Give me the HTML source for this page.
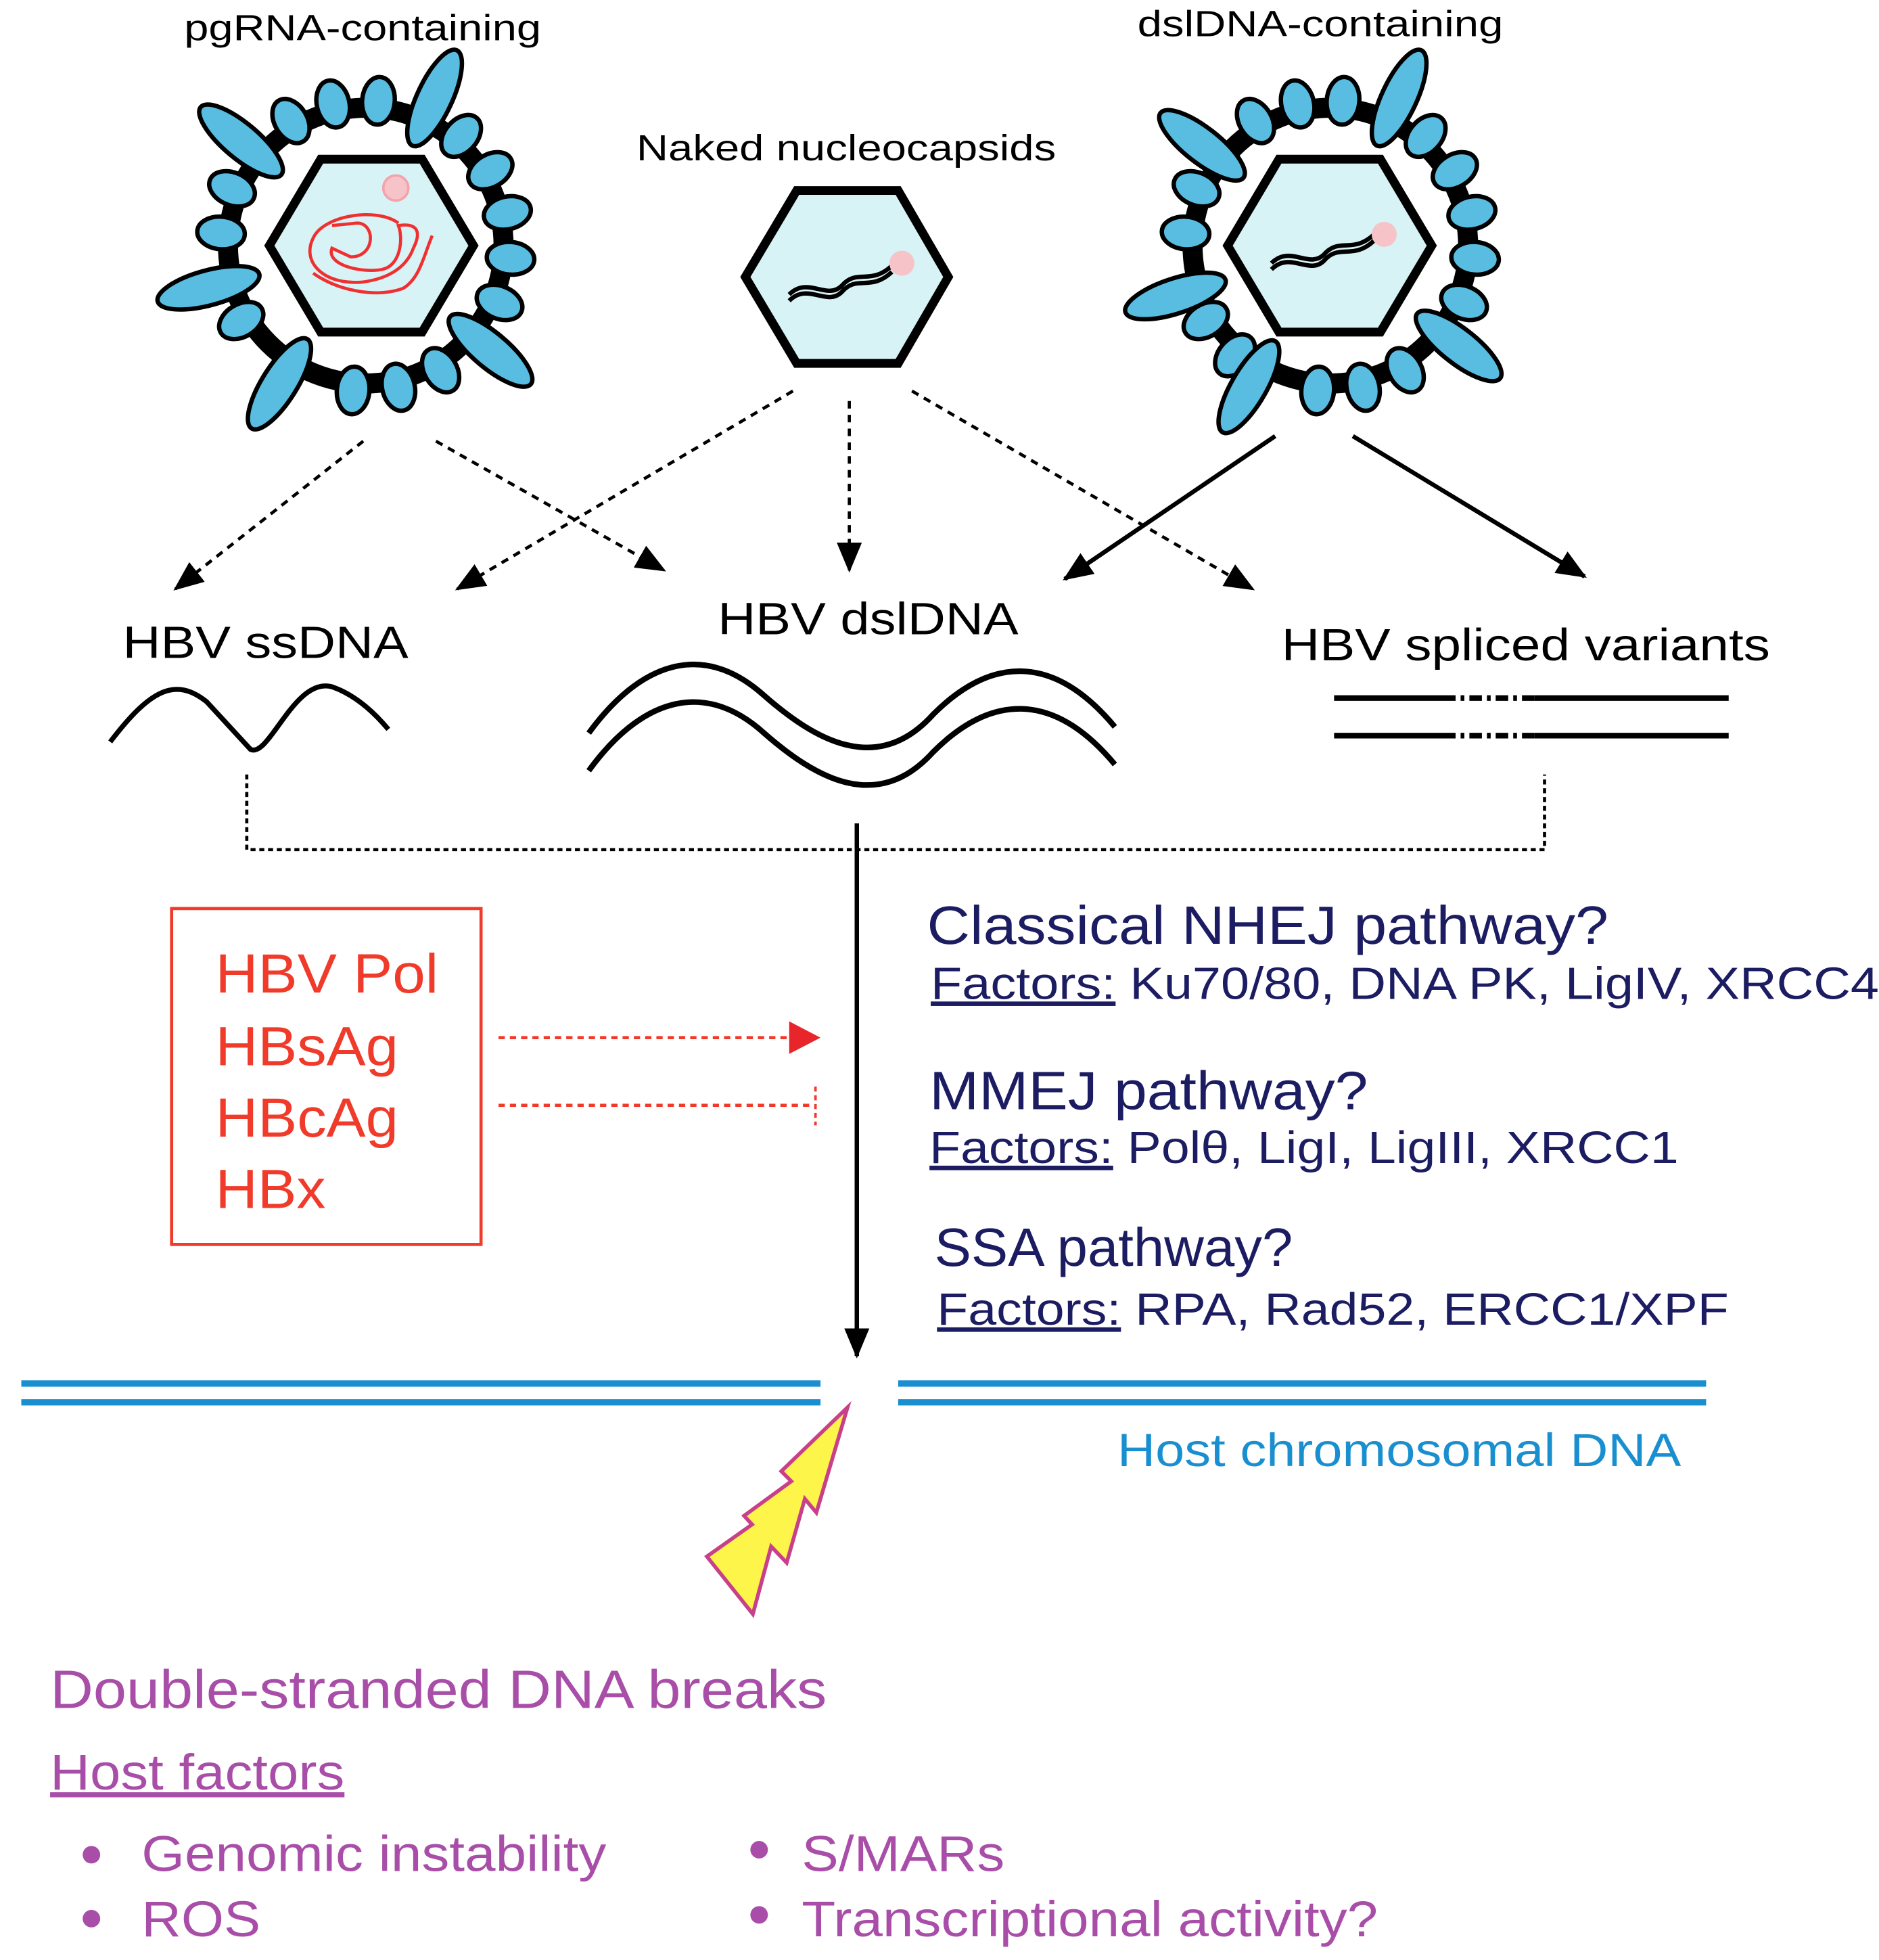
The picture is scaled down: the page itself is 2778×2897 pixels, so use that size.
<!DOCTYPE html>
<html><head><meta charset="utf-8"><style>
html,body{margin:0;padding:0;background:#fff;}
svg{display:block;}
text{font-family:"Liberation Sans",sans-serif;}
</style></head><body>
<svg id="s" width="2778" height="2897" viewBox="0 0 1500 1564" preserveAspectRatio="none" xmlns="http://www.w3.org/2000/svg">
<defs>
<marker id="ahb" markerWidth="24" markerHeight="20" refX="22" refY="10" orient="auto" markerUnits="userSpaceOnUse"><path d="M0,0 L24,10 L0,20 z" fill="#000"/></marker>
</defs>
<g id="v1"></g><g id="v3"></g>
<polygon points="215,196 256,127 337,127 378,196 337,265 256,265" fill="#d8f3f6" stroke="#000" stroke-width="7"/>
<polygon points="595,221 636,152 717,152 757,221 717,290 636,290" fill="#d8f3f6" stroke="#000" stroke-width="7"/>
<polygon points="980,196 1021,127 1102,127 1143,196 1102,265 1021,265" fill="#d8f3f6" stroke="#000" stroke-width="7"/>
<circle cx="316" cy="150" r="10" fill="#f6c4c8" stroke="#f3a3aa" stroke-width="2"/>
<path d="M265,180 L285,178 C300,178 300,205 280,205 L265,198 C260,212 290,218 305,215 C320,212 322,190 318,180 C330,178 338,182 330,198 C325,212 312,222 290,225 C260,228 240,210 250,190 C258,172 300,165 318,178 M345,188 C338,205 335,222 322,230 C300,238 270,232 250,218" fill="none" stroke="#f03030" stroke-width="2.5"/>
<path d="M630,235 C645,220 660,240 672,228 C684,214 695,228 712,212 M630,240 C645,225 660,245 672,233 C684,219 695,233 712,217" fill="none" stroke="#000" stroke-width="3.5"/>
<circle cx="720" cy="210" r="10" fill="#f6c4c8"/>
<path d="M1015,210 C1030,195 1045,215 1057,203 C1069,189 1080,203 1097,187 M1015,215 C1030,200 1045,220 1057,208 C1069,194 1080,208 1097,192" fill="none" stroke="#000" stroke-width="3.5"/>
<circle cx="1105" cy="187" r="10" fill="#f6c4c8"/>
<text x="147" y="32" font-size="29" textLength="285" lengthAdjust="spacingAndGlyphs">pgRNA-containing</text>
<text x="908" y="29" font-size="29" textLength="292" lengthAdjust="spacingAndGlyphs">dslDNA-containing</text>
<text x="508" y="128" font-size="29" textLength="335" lengthAdjust="spacingAndGlyphs">Naked nucleocapsids</text>
<g stroke="#000" stroke-width="2.5" stroke-dasharray="6,5" fill="none">
<line x1="290" y1="352" x2="140" y2="470" marker-end="url(#ahb)"/>
<line x1="348" y1="352" x2="530" y2="455" marker-end="url(#ahb)"/>
<line x1="633" y1="312" x2="365" y2="470" marker-end="url(#ahb)"/>
<line x1="678" y1="320" x2="678" y2="455" marker-end="url(#ahb)"/>
<line x1="728" y1="312" x2="1000" y2="470" marker-end="url(#ahb)"/>
</g>
<g stroke="#000" stroke-width="3.5" fill="none">
<line x1="1018" y1="348" x2="850" y2="462" marker-end="url(#ahb)"/>
<line x1="1080" y1="348" x2="1265" y2="460" marker-end="url(#ahb)"/>
</g>
<text x="98" y="525" font-size="36" textLength="228" lengthAdjust="spacingAndGlyphs">HBV ssDNA</text>
<text x="573" y="506" font-size="36" textLength="240" lengthAdjust="spacingAndGlyphs">HBV dslDNA</text>
<text x="1023" y="527" font-size="36" textLength="390" lengthAdjust="spacingAndGlyphs">HBV spliced variants</text>
<path d="M88,592 C120,550 140,540 165,560 L200,598 C215,605 235,540 265,548 C285,555 300,570 310,582" fill="none" stroke="#000" stroke-width="4"/>
<path d="M470,585 C510,530 560,510 610,555 C650,590 700,620 745,570 C790,525 840,520 890,580" fill="none" stroke="#000" stroke-width="4.5"/>
<path d="M470,615 C510,560 560,540 610,585 C650,620 700,650 745,600 C790,555 840,550 890,610" fill="none" stroke="#000" stroke-width="4.5"/>
<g stroke="#000" stroke-width="4.5"><line x1="1065" y1="557" x2="1152" y2="557"/><line x1="1225" y1="557" x2="1380" y2="557"/><line x1="1065" y1="587" x2="1152" y2="587"/><line x1="1225" y1="587" x2="1380" y2="587"/></g>
<g stroke="#000" stroke-width="4.5" stroke-dasharray="10,4,3,4"><line x1="1152" y1="557" x2="1225" y2="557"/><line x1="1152" y1="587" x2="1225" y2="587"/></g>
<path d="M197,618 L197,678 L1233,678 L1233,618" fill="none" stroke="#000" stroke-width="2.5" stroke-dasharray="4,3"/>
<line x1="684" y1="657" x2="684" y2="1082" stroke="#000" stroke-width="3.5" marker-end="url(#ahb)"/>
<rect x="137" y="725" width="247" height="268" fill="none" stroke="#f03a2a" stroke-width="2.5"/>
<g fill="#f03a2a" font-size="44">
<text x="172" y="792" textLength="178" lengthAdjust="spacingAndGlyphs">HBV Pol</text>
<text x="172" y="850" textLength="146" lengthAdjust="spacingAndGlyphs">HBsAg</text>
<text x="172" y="907" textLength="146" lengthAdjust="spacingAndGlyphs">HBcAg</text>
<text x="172" y="964" textLength="88" lengthAdjust="spacingAndGlyphs">HBx</text></g>
<line x1="398" y1="828" x2="630" y2="828" stroke="#f03a2a" stroke-width="2.5" stroke-dasharray="5,4"/>
<path d="M630,815 L655,828 L630,841 z" fill="#e8252a"/>
<line x1="398" y1="882" x2="648" y2="882" stroke="#f03a2a" stroke-width="2.5" stroke-dasharray="5,4"/>
<line x1="651" y1="867" x2="651" y2="898" stroke="#f03a2a" stroke-width="2" stroke-dasharray="4,3"/>
<g fill="#1c1c62">
<text x="740" y="753" font-size="43" textLength="544" lengthAdjust="spacingAndGlyphs">Classical NHEJ pathway?</text>
<text x="743" y="797" font-size="36" textLength="757" lengthAdjust="spacingAndGlyphs"><tspan text-decoration="underline">Factors:</tspan> Ku70/80, DNA PK, LigIV, XRCC4</text>
<text x="742" y="885" font-size="43" textLength="350" lengthAdjust="spacingAndGlyphs">MMEJ pathway?</text>
<text x="742" y="928" font-size="36" textLength="598" lengthAdjust="spacingAndGlyphs"><tspan text-decoration="underline">Factors:</tspan> Polθ, LigI, LigIII, XRCC1</text>
<text x="746" y="1010" font-size="43" textLength="286" lengthAdjust="spacingAndGlyphs">SSA pathway?</text>
<text x="748" y="1057" font-size="36" textLength="632" lengthAdjust="spacingAndGlyphs"><tspan text-decoration="underline">Factors:</tspan> RPA, Rad52, ERCC1/XPF</text>
</g>
<g stroke="#1a8fd0" stroke-width="5"><line x1="17" y1="1104" x2="655" y2="1104"/><line x1="17" y1="1119" x2="655" y2="1119"/><line x1="717" y1="1104" x2="1362" y2="1104"/><line x1="717" y1="1119" x2="1362" y2="1119"/></g>
<text x="892" y="1170" font-size="37" fill="#1a8fd0" textLength="450" lengthAdjust="spacingAndGlyphs">Host chromosomal DNA</text>
<polygon points="676.6,1123 623.7,1174 631.7,1182 594,1209.5 600.4,1216.5 564.3,1242 601,1288 615.6,1234 628,1247 642.5,1196 651.7,1207" fill="#fdf54a" stroke="#c8408a" stroke-width="3"/>
<g fill="#a94ea8">
<text x="40" y="1363" font-size="43" textLength="620" lengthAdjust="spacingAndGlyphs">Double-stranded DNA breaks</text>
<text x="40" y="1428" font-size="40" text-decoration="underline" textLength="235" lengthAdjust="spacingAndGlyphs">Host factors</text>
<circle cx="73" cy="1480" r="7"/><circle cx="73" cy="1531" r="7"/><circle cx="606" cy="1476" r="7"/><circle cx="606" cy="1528" r="7"/>
<text x="113" y="1493" font-size="40" textLength="371" lengthAdjust="spacingAndGlyphs">Genomic instability</text>
<text x="113" y="1545" font-size="40" textLength="95" lengthAdjust="spacingAndGlyphs">ROS</text>
<text x="640" y="1493" font-size="40" textLength="162" lengthAdjust="spacingAndGlyphs">S/MARs</text>
<text x="640" y="1545" font-size="40" textLength="460" lengthAdjust="spacingAndGlyphs">Transcriptional activity?</text>
</g>
</svg>
<script>
(function(){
var NS="http://www.w3.org/2000/svg";
function virus(g,cx,cy,spikes){
  g=document.getElementById(g);
  function el(tag,a){var e=document.createElementNS(NS,tag);for(var k in a)e.setAttribute(k,a[k]);g.appendChild(e);return e;}
  el("circle",{cx:cx,cy:cy,r:110,fill:"#fff",stroke:"#000","stroke-width":16});
  var n=20;
  for(var i=0;i<n;i++){
    var ang=i*360/n+5;
    var skip=false;
    spikes.forEach(function(s){var d=Math.abs(((ang-s+540)%360)-180);if(d<10)skip=true;});
    if(skip)continue;
    var a=ang*Math.PI/180;
    var x=cx+116*Math.sin(a), y=cy-116*Math.cos(a);
    el("ellipse",{cx:x,cy:y,rx:13,ry:19,fill:"#59bde2",stroke:"#000","stroke-width":3.5,transform:"rotate("+ang+" "+x+" "+y+")"});
  }
  spikes.forEach(function(s){
    var a=s*Math.PI/180;var x=cx+130*Math.sin(a), y=cy-130*Math.cos(a);
    el("ellipse",{cx:x,cy:y,rx:14,ry:42,fill:"#59bde2",stroke:"#000","stroke-width":3.5,transform:"rotate("+s+" "+x+" "+y+")"});
  });
}
virus("v1",292,196,[25,-50,-105,-148,130]);
virus("v3",1062,196,[25,-52,-108,-150,128]);
})();
</script>
</body></html>
